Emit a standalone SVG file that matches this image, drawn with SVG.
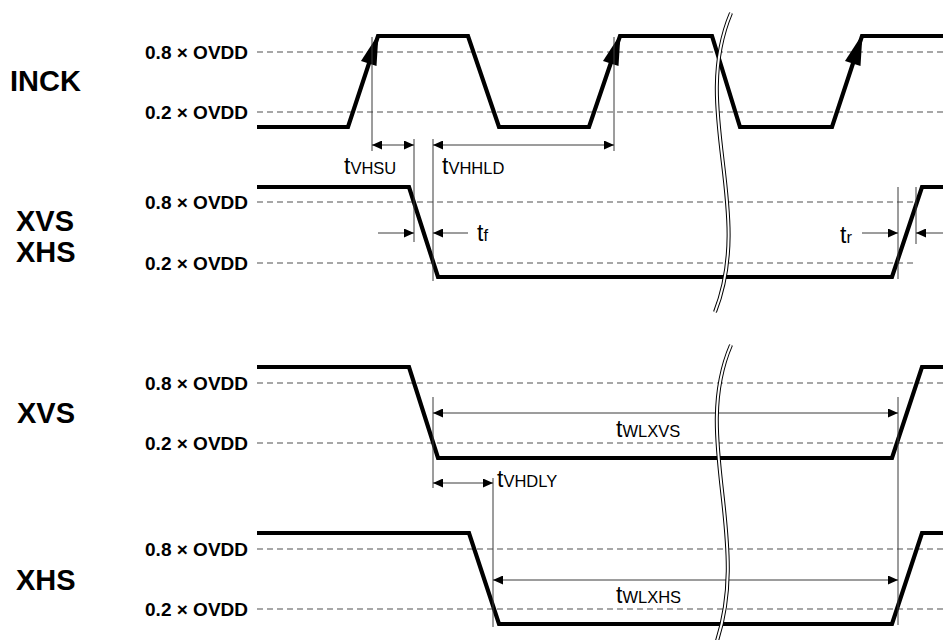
<svg xmlns="http://www.w3.org/2000/svg" width="943" height="640" viewBox="0 0 943 640">
<style>
.wave{fill:none;stroke:#000;stroke-width:4.2;stroke-linejoin:miter;stroke-linecap:butt}
.dash{fill:none;stroke:#505050;stroke-width:1.1;stroke-dasharray:6 4}
.thin{fill:none;stroke:#3a3a3a;stroke-width:1}
.dim{fill:none;stroke:#3a3a3a;stroke-width:1;marker-end:url(#ah)}
.dim2{fill:none;stroke:#3a3a3a;stroke-width:1;marker-start:url(#ah);marker-end:url(#ah)}
.sig{font-family:"Liberation Sans",Arial,sans-serif;font-weight:bold;font-size:29px;fill:#000}
.lvl{font-family:"Liberation Sans",Arial,sans-serif;font-weight:bold;font-size:19px;fill:#000;text-anchor:end}
.tm{font-family:"Liberation Sans",Arial,sans-serif;font-size:16.5px;fill:#000}
.tm .t{font-size:23px}
.brkO{fill:none;stroke:#000;stroke-width:4}
.brkI{fill:none;stroke:#fff;stroke-width:2}
</style>
<defs>
<marker id="ah" markerUnits="userSpaceOnUse" markerWidth="11" markerHeight="9" refX="10" refY="4.5" orient="auto-start-reverse" viewBox="0 0 11 9">
<path d="M0,0 L10,4.5 L0,9 z" fill="#000"/>
</marker>
</defs>
<rect width="943" height="640" fill="#fff"/>

<g id="labels">
<text class="sig" x="10" y="91">INCK</text>
<text class="sig" x="16" y="231">XVS</text>
<text class="sig" x="16" y="262">XHS</text>
<text class="sig" x="17" y="423">XVS</text>
<text class="sig" x="16" y="590">XHS</text>
</g>

<g id="signal-inck">
<text class="lvl" x="248" y="59">0.8 × OVDD</text>
<text class="lvl" x="248" y="119">0.2 × OVDD</text>
<line class="dash" x1="257" y1="52" x2="943" y2="52"/>
<line class="dash" x1="257" y1="112" x2="943" y2="112"/>
<path class="wave" d="M257,127 H348 L378,36 H468 L499,127 H589 L620,36 H712 L740,127 H832 L862,36 H943"/>
<polygon points="378.5,34 376.5,66 361,61" fill="#000"/>
<polygon points="620.5,34 618.5,66 603,61" fill="#000"/>
<polygon points="862.5,34 860.5,66 845,61" fill="#000"/>
</g>

<g id="signal-xvs-xhs">
<text class="lvl" x="248" y="209">0.8 × OVDD</text>
<text class="lvl" x="248" y="270">0.2 × OVDD</text>
<line class="dash" x1="257" y1="202" x2="917" y2="202"/>
<line class="dash" x1="257" y1="263" x2="917" y2="263"/>
<path class="wave" d="M257,187 H409 L438,277 H892 L922,187 H943"/>
</g>

<g id="signal-xvs">
<text class="lvl" x="248" y="390">0.8 × OVDD</text>
<text class="lvl" x="248" y="450">0.2 × OVDD</text>
<line class="dash" x1="257" y1="383" x2="943" y2="383"/>
<line class="dash" x1="257" y1="443" x2="943" y2="443"/>
<path class="wave" d="M257,367 H409 L438,458 H892 L922,367 H943"/>
</g>

<g id="signal-xhs">
<text class="lvl" x="248" y="556">0.8 × OVDD</text>
<text class="lvl" x="248" y="616">0.2 × OVDD</text>
<line class="dash" x1="257" y1="549" x2="943" y2="549"/>
<line class="dash" x1="257" y1="609" x2="943" y2="609"/>
<path class="wave" d="M257,533 H469 L499,624 H892 L922,533 H943"/>
</g>

<g id="connectors">
<line class="thin" x1="372" y1="37" x2="372" y2="151"/>
<line class="thin" x1="614" y1="37" x2="614" y2="151"/>
<line class="thin" x1="414" y1="139" x2="414" y2="242"/>
<line class="thin" x1="433" y1="139" x2="433" y2="281"/>
<line class="dim2" x1="372" y1="145" x2="414" y2="145"/>
<line class="dim2" x1="433" y1="145" x2="614" y2="145"/>
<line class="dim" x1="378" y1="233" x2="414" y2="233"/>
<line class="dim" x1="468" y1="233" x2="433" y2="233"/>
<line class="thin" x1="898" y1="187" x2="898" y2="279"/>
<line class="thin" x1="916" y1="187" x2="916" y2="244"/>
<line class="dim" x1="862" y1="233" x2="898" y2="233"/>
<line class="dim" x1="943" y1="233" x2="916" y2="233"/>
<line class="thin" x1="433" y1="397" x2="433" y2="488"/>
<line class="thin" x1="898" y1="397" x2="898" y2="625"/>
<line class="dim2" x1="433" y1="413" x2="898" y2="413"/>
<line class="thin" x1="493" y1="478" x2="493" y2="627"/>
<line class="dim2" x1="433" y1="483" x2="493" y2="483"/>
<line class="dim2" x1="493" y1="580" x2="898" y2="580"/>
<text class="tm" x="344" y="174"><tspan class="t">t</tspan>VHSU</text>
<text class="tm" x="442" y="174"><tspan class="t">t</tspan>VHHLD</text>
<text class="tm" x="477" y="241"><tspan class="t">t</tspan>f</text>
<text class="tm" x="840" y="243"><tspan class="t">t</tspan>r</text>
<text class="tm" x="616" y="437"><tspan class="t">t</tspan>WLXVS</text>
<text class="tm" x="497" y="487"><tspan class="t">t</tspan>VHDLY</text>
<text class="tm" x="616" y="603"><tspan class="t">t</tspan>WLXHS</text>
</g>

<g id="breaks">
<path class="brkO" d="M731,13 C690,110 755,210 715,312"/>
<path class="brkI" d="M731,13 C690,110 755,210 715,312"/>
<path class="brkO" d="M731,345 C690,440 755,545 713,652"/>
<path class="brkI" d="M731,345 C690,440 755,545 713,652"/>
</g>
</svg>
